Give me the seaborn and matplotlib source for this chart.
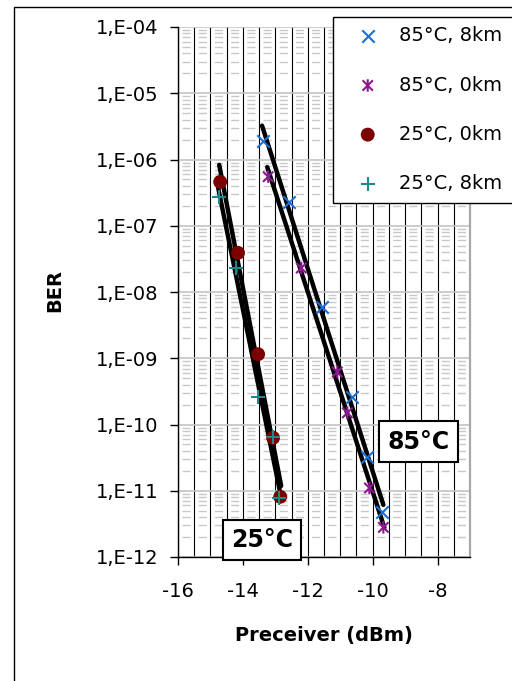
import numpy as np
import pandas as pd
import matplotlib
matplotlib.use("Agg")
import matplotlib.pyplot as plt
import matplotlib.ticker as mticker
from matplotlib.path import Path
from matplotlib.patches import Rectangle
import seaborn as sns

# ---- data ----
p_85_8 = [-13.38, -12.57, -11.56, -10.63, -10.17, -9.70]
ber_85_8 = [1.9e-6, 2.3e-7, 5.9e-9, 2.6e-10, 3.2e-11, 4.8e-12]
p_85_0 = [-13.22, -12.20, -11.09, -10.78, -10.10, -9.67]
ber_85_0 = [5.5e-7, 2.3e-8, 6.2e-10, 1.5e-10, 1.1e-11, 2.8e-12]
p_25_0 = [-14.70, -14.15, -13.53, -13.07, -12.85]
ber_25_0 = [4.6e-7, 3.9e-8, 1.15e-9, 6.3e-11, 8.1e-12]
p_25_8 = [-14.73, -14.20, -13.53, -13.07, -12.90]
ber_25_8 = [2.7e-7, 2.3e-8, 2.6e-10, 6.5e-11, 7.8e-12]

labels = ["85°C, 8km", "85°C, 0km", "25°C, 0km", "25°C, 8km"]
x_ticks = [-16, -14, -12, -10, -8]
y_exps = [-12, -11, -10, -9, -8, -7, -6, -5, -4]

sns.set_style("white")
plt.rcParams['font.family'] = ['DejaVu Sans']
plt.rcParams['axes.unicode_minus'] = False
plt.rcParams['text.color'] = 'black'
plt.rcParams['xtick.color'] = 'black'
plt.rcParams['ytick.color'] = 'black'
plt.rcParams['xtick.labelcolor'] = 'black'
plt.rcParams['ytick.labelcolor'] = 'black'

fig = plt.figure(figsize=(5.12, 6.81), dpi=100)
ax = fig.add_axes([178/512, 1-557/681, (470-178)/512, (557-27)/681])

star = Path([(-1, -1), (1, 1), (-1, 1), (1, -1), (0, -1.2), (0, 1.2)],
            [Path.MOVETO, Path.LINETO, Path.MOVETO, Path.LINETO, Path.MOVETO, Path.LINETO])

series = [
    (p_85_8, ber_85_8, labels[0], "x", "#1a6fd1", 80),
    (p_85_0, ber_85_0, labels[1], star, "#8a1a8e", 80),
    (p_25_0, ber_25_0, labels[2], "o", "#7d0000", 100),
    (p_25_8, ber_25_8, labels[3], "+", "#1a8a8a", 100),
]

# trend lines (log-linear fits of each series)
for px, by, lab, m, c, s in series:
    coef = np.polyfit(px, np.log10(by), 1)
    xs = np.array([min(px) - 0.03, max(px) + 0.03])
    ys = 10 ** np.polyval(coef, xs)
    sns.lineplot(x=xs, y=ys, ax=ax, color="black", lw=3.2, legend=False, zorder=3)

for px, by, lab, m, c, s in series:
    df = pd.DataFrame({"P": px, "BER": by})
    if m == "o":
        kw = dict(edgecolor="none")
    elif m == "x" or m == "+":
        kw = dict(linewidth=1.5)
    else:
        kw = dict(linewidth=1.5, edgecolor=c, facecolor="none")
    sns.scatterplot(data=df, x="P", y="BER", ax=ax, marker=m, color=c, s=s,
                    label=lab, zorder=4, **kw)

ax.set_yscale("log")
ax.set_xlim(-16, -7)
ax.set_ylim(1e-12, 1e-4)

ax.set_xticks(x_ticks)
ax.xaxis.set_major_formatter(mticker.FuncFormatter(lambda v, p: f"{int(round(v))}"))
ax.xaxis.set_minor_locator(mticker.MultipleLocator(0.5))
ax.set_yticks([10.0 ** e for e in y_exps])
ax.yaxis.set_major_formatter(mticker.FuncFormatter(
    lambda v, p: f"1,E-{abs(int(round(np.log10(v)))):02d}"))
ax.yaxis.set_minor_locator(mticker.LogLocator(base=10, subs=np.arange(2, 10)))
ax.yaxis.set_minor_formatter(mticker.NullFormatter())

period = 16.2 * 72 / 100  # one 0.5 dBm column, in points
ax.grid(True, which="major", axis="y", color="#c4c4c4", lw=1.2)
ax.grid(True, which="minor", axis="y", color="#c8c8c8", lw=1.0,
        linestyle=(period - 2.9, (period / 2, period / 2)))
ax.grid(True, which="both", axis="x", color="black", lw=0.8)
ax.set_axisbelow(True)

ax.tick_params(axis="both", which="major", direction="out", length=6, width=1,
               color="black", labelsize=14, pad=8, labelcolor="black")
ax.tick_params(axis="x", which="major", pad=12)
ax.tick_params(which="minor", length=0)
ax.tick_params(axis="x", which="major", bottom=True)
ax.tick_params(axis="y", which="major", left=True)

for sp in ["left", "bottom"]:
    ax.spines[sp].set_color("black")
    ax.spines[sp].set_linewidth(1)
ax.spines["top"].set_visible(False)
ax.spines["right"].set_color("#a8a8a8")
ax.spines["right"].set_linewidth(1.6)

ax.set_xlabel("")
ax.set_ylabel("")
fig.text(324/512, 1-635/681, "Preceiver (dBm)", ha="center", va="center",
         fontsize=14, fontweight="bold", color="black")
fig.text(55/512, 1-290/681, "BER", ha="center", va="center", rotation=90,
         fontsize=14, fontweight="bold", color="black")

box = dict(boxstyle="square,pad=0.35", fc="white", ec="black", lw=1.5)
ax.text(-8.59, 5.5e-11, "85°C", ha="center", va="center", fontsize=17,
        fontweight="bold", bbox=box, zorder=6, color="black")
ax.text(-13.41, 1.8e-12, "25°C", ha="center", va="center", fontsize=17,
        fontweight="bold", bbox=box, zorder=6, clip_on=False, color="black")

leg = ax.legend(loc="upper left", bbox_to_anchor=(323/512, 0.5, 0.6, 1-7/681-0.5),
                bbox_transform=fig.transFigure, mode="expand", fontsize=14,
                frameon=True, fancybox=False, framealpha=1, edgecolor="black",
                handlelength=2.6, handletextpad=0.3, labelspacing=1.55,
                borderpad=0.5, scatterpoints=1)
leg.get_frame().set_linewidth(1)
for t in leg.get_texts():
    t.set_color("black")

fig.patches.append(Rectangle((14/512, -0.2), 2, 1-7/681+0.2, transform=fig.transFigure,
                             fill=False, ec="black", lw=1))

fig.savefig("out.png", dpi=100)
